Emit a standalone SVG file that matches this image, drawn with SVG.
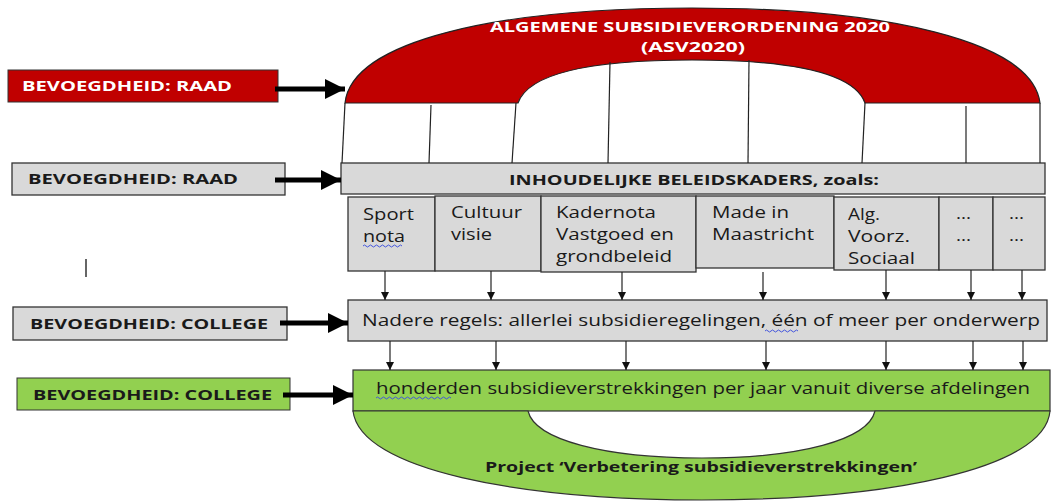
<svg xmlns="http://www.w3.org/2000/svg" width="1053" height="502" viewBox="0 0 1053 502">
<style>
text{font-family:"Open Sans","Liberation Sans",sans-serif;fill:#1a1a1a}
.b{font-weight:bold}
.w{fill:#fff}
.lbl{font-size:14px;font-weight:bold}
.sub{font-size:17px}
.grey{fill:#d9d9d9;stroke:#333;stroke-width:1.3}
.thin{stroke:#222;stroke-width:1.2;fill:none}
.thick{stroke:#000;stroke-width:5;fill:none}
.squig{stroke:#4455dd;stroke-width:1;fill:none}
</style>
<defs>
<marker id="big" viewBox="0 0 10 10" refX="10" refY="5" markerWidth="4" markerHeight="4" markerUnits="strokeWidth" orient="auto"><path d="M0,0 L10,5 L0,10 z" fill="#000"/></marker>
<marker id="small" viewBox="0 0 10 10" refX="10" refY="5" markerWidth="8" markerHeight="8" markerUnits="userSpaceOnUse" orient="auto"><path d="M0,0 L10,5 L0,10 z" fill="#111"/></marker>
</defs>

<g id="asv">
<path d="M345,103 C352,40 500,8 692,8 C882,8 1032,40 1040,103 L865,103 C855,75 800,60 692,60 C585,60 528,75 518,103 Z" fill="#c00000" stroke="#222" stroke-width="1.2"/>
<text x="690" y="32" text-anchor="middle" class="b w" font-size="15" textLength="400" lengthAdjust="spacingAndGlyphs">ALGEMENE SUBSIDIEVERORDENING 2020</text>
<text x="693" y="52" text-anchor="middle" class="b w" font-size="15" textLength="104" lengthAdjust="spacingAndGlyphs">(ASV2020)</text>
</g>

<g id="raad1">
<rect x="8" y="70" width="270" height="32" fill="#c00000" stroke="#333" stroke-width="1"/>
<text x="22" y="91" class="lbl w" textLength="210" lengthAdjust="spacingAndGlyphs">BEVOEGDHEID: RAAD</text>
</g>

<g id="raad2">
<rect x="12" y="163" width="273" height="32" class="grey"/>
<text x="28" y="184" class="lbl" textLength="210" lengthAdjust="spacingAndGlyphs">BEVOEGDHEID: RAAD</text>
</g>

<g id="college1">
<rect x="13" y="307" width="274" height="33" class="grey"/>
<text x="30" y="329" class="lbl" textLength="238" lengthAdjust="spacingAndGlyphs">BEVOEGDHEID: COLLEGE</text>
</g>

<g id="college2">
<rect x="17" y="378" width="273" height="32" fill="#92d050" stroke="#333" stroke-width="1"/>
<text x="33" y="400" class="lbl" textLength="239" lengthAdjust="spacingAndGlyphs">BEVOEGDHEID: COLLEGE</text>
</g>

<g id="kaders">
<rect x="341" y="163" width="704" height="31" class="grey"/>
<text x="694" y="185" text-anchor="middle" class="b" font-size="15" textLength="370" lengthAdjust="spacingAndGlyphs">INHOUDELIJKE BELEIDSKADERS, zoals:</text>
</g>

<g id="sport">
<rect x="348" y="197" width="87" height="74" class="grey"/>
<text class="sub" x="363" y="220" textLength="51" lengthAdjust="spacingAndGlyphs">Sport</text>
<text class="sub" x="363" y="242" textLength="42" lengthAdjust="spacingAndGlyphs">nota</text>
<path class="squig" d="M363,246 q1.5,-2 3,0 t3,0 t3,0 t3,0 t3,0 t3,0 t3,0 t3,0 t3,0 t3,0 t3,0 t3,0 t3,0"/>
</g>
<g id="cultuur">
<rect x="435" y="196" width="106" height="75" class="grey"/>
<text class="sub" x="451" y="218" textLength="71" lengthAdjust="spacingAndGlyphs">Cultuur</text>
<text class="sub" x="451" y="240" textLength="41" lengthAdjust="spacingAndGlyphs">visie</text>
</g>
<g id="kadernota">
<rect x="541" y="196" width="155" height="76" class="grey"/>
<text class="sub" x="556" y="218" textLength="100" lengthAdjust="spacingAndGlyphs">Kadernota</text>
<text class="sub" x="556" y="240" textLength="118" lengthAdjust="spacingAndGlyphs">Vastgoed en</text>
<text class="sub" x="556" y="262" textLength="116" lengthAdjust="spacingAndGlyphs">grondbeleid</text>
</g>
<g id="made">
<rect x="696" y="196" width="138" height="72" class="grey"/>
<text class="sub" x="712" y="218" textLength="77" lengthAdjust="spacingAndGlyphs">Made in</text>
<text class="sub" x="712" y="240" textLength="102" lengthAdjust="spacingAndGlyphs">Maastricht</text>
</g>
<g id="alg">
<rect x="834" y="197" width="105" height="73" class="grey"/>
<text class="sub" x="848" y="220" textLength="32" lengthAdjust="spacingAndGlyphs">Alg.</text>
<text class="sub" x="848" y="242" textLength="62" lengthAdjust="spacingAndGlyphs">Voorz.</text>
<text class="sub" x="848" y="264" textLength="67" lengthAdjust="spacingAndGlyphs">Sociaal</text>
</g>
<g id="dots1">
<rect x="939" y="197" width="54" height="73" class="grey"/>
<text class="sub" x="956" y="219" textLength="15" lengthAdjust="spacingAndGlyphs">...</text>
<text class="sub" x="956" y="241" textLength="15" lengthAdjust="spacingAndGlyphs">...</text>
</g>
<g id="dots2">
<rect x="993" y="197" width="52" height="73" class="grey"/>
<text class="sub" x="1009" y="219" textLength="15" lengthAdjust="spacingAndGlyphs">...</text>
<text class="sub" x="1009" y="241" textLength="15" lengthAdjust="spacingAndGlyphs">...</text>
</g>

<g id="nadere">
<rect x="348" y="300" width="699" height="41" class="grey"/>
<text x="362" y="326" font-size="16" textLength="678" lengthAdjust="spacingAndGlyphs">Nadere regels: allerlei subsidieregelingen, één of meer per onderwerp</text>
<path class="squig" d="M765,331 q1.5,-2 3,0 t3,0 t3,0 t3,0 t3,0 t3,0 t3,0 t3,0 t3,0 t3,0 t3,0"/>
</g>

<g id="honderden">
<rect x="353" y="370" width="697" height="41" fill="#92d050" stroke="#333" stroke-width="1.2"/>
<text x="376" y="394" font-size="16" textLength="654" lengthAdjust="spacingAndGlyphs">honderden subsidieverstrekkingen per jaar vanuit diverse afdelingen</text>
<path class="squig" d="M376,398 q1.5,-2 3,0 t3,0 t3,0 t3,0 t3,0 t3,0 t3,0 t3,0 t3,0 t3,0 t3,0 t3,0 t3,0 t3,0 t3,0 t3,0 t3,0 t3,0 t3,0 t3,0 t3,0 t3,0 t3,0 t3,0 t3,0"/>
</g>

<g id="project">
<path d="M353,411 C360,470 520,500 702,500 C885,500 1045,470 1050,411 L875,411 C868,440 800,458 702,458 C605,458 535,440 528,411 Z" fill="#92d050" stroke="#333" stroke-width="1.2"/>
<text x="701" y="472" text-anchor="middle" class="b" font-size="15" textLength="432" lengthAdjust="spacingAndGlyphs">Project ‘Verbetering subsidieverstrekkingen’</text>
</g>

<g id="connectors">
<path class="thin" d="M345,103 L342,163"/>
<path class="thin" d="M431,105 L429,163"/>
<path class="thin" d="M516,103 L512,163"/>
<path class="thin" d="M610,62 L608,163"/>
<path class="thin" d="M749,60 L748,163"/>
<path class="thin" d="M865,103 L862,163"/>
<path class="thin" d="M966,106 L966,163"/>
<path class="thin" d="M1040,103 L1040,163"/>

<path class="thick" d="M275,89 L345,89" marker-end="url(#big)"/>
<path class="thick" d="M275,180 L341,180" marker-end="url(#big)"/>
<path class="thick" d="M280,323 L348,323" marker-end="url(#big)"/>
<path class="thick" d="M283,395 L353,395" marker-end="url(#big)"/>

<path class="thin" d="M385,271 L385,300" marker-end="url(#small)"/>
<path class="thin" d="M491,271 L491,300" marker-end="url(#small)"/>
<path class="thin" d="M622,272 L622,300" marker-end="url(#small)"/>
<path class="thin" d="M763,272 L763,300" marker-end="url(#small)"/>
<path class="thin" d="M886,270 L886,300" marker-end="url(#small)"/>
<path class="thin" d="M971,270 L971,300" marker-end="url(#small)"/>
<path class="thin" d="M1022,270 L1022,300" marker-end="url(#small)"/>

<path class="thin" d="M390,341 L390,370" marker-end="url(#small)"/>
<path class="thin" d="M496,341 L496,370" marker-end="url(#small)"/>
<path class="thin" d="M626,341 L626,370" marker-end="url(#small)"/>
<path class="thin" d="M766,341 L766,370" marker-end="url(#small)"/>
<path class="thin" d="M886,341 L886,370" marker-end="url(#small)"/>
<path class="thin" d="M973,341 L973,370" marker-end="url(#small)"/>
<path class="thin" d="M1023,341 L1023,370" marker-end="url(#small)"/>
</g>

<line x1="86" y1="259" x2="86" y2="277" stroke="#333" stroke-width="1.5"/>
</svg>
